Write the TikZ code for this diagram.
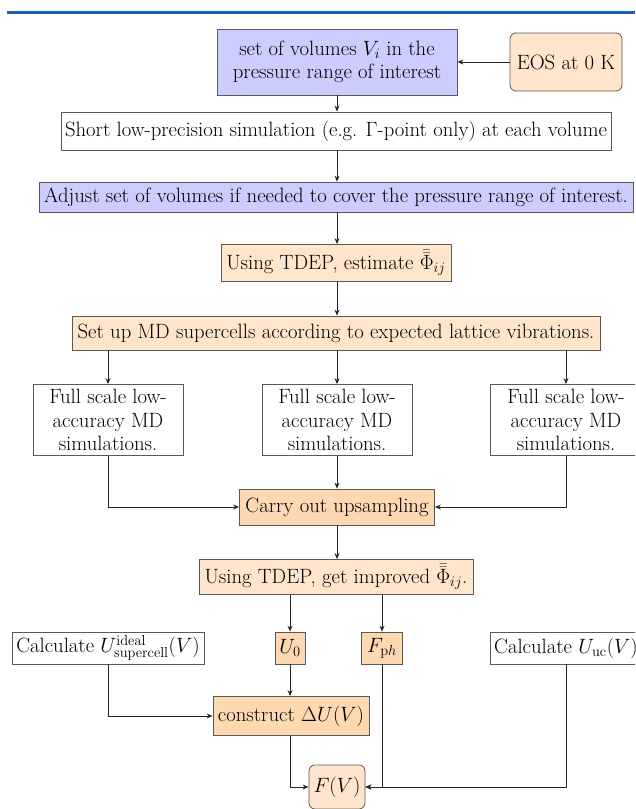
\RequirePackage{fix-cm}
\documentclass[tikz,border=0pt]{standalone}
\usetikzlibrary{arrows.meta}
\definecolor{topblue}{HTML}{1F5FAF}
\definecolor{lavfill}{HTML}{CCCCFF}
\definecolor{lightor}{HTML}{FFE5CC}
\definecolor{darkor}{HTML}{FDD8B1}
\newcommand{\myfs}{\fontsize{20.7}{23.5}\selectfont}
\tikzset{
 box/.style={draw=black!65, line width=0.8pt, align=center, inner xsep=3pt, inner ysep=3pt, font=\myfs},
 lav/.style={box, fill=lavfill},
 lor/.style={box, fill=lightor},
 dor/.style={box, fill=darkor},
 wht/.style={box, fill=white},
 arr/.style={-{Stealth[length=6pt,width=5pt]}, line width=0.9pt, black!85},
}
\begin{document}
\begin{tikzpicture}[x=1pt,y=-1pt]
\clip (0,0) rectangle (635,809);
\fill[white] (0,0) rectangle (635,809);
\draw[topblue, line width=3pt] (7,12) -- (635,12);

\node[lav, minimum width=240, minimum height=66] (vol) at (337,62) {set of volumes $V_i$ in the\\pressure range of interest};
\node[lor, rounded corners=6pt, minimum width=112, minimum height=58] (eos) at (566,62) {EOS at 0 K};
\node[wht, minimum width=550, minimum height=38] (short) at (336,131) {Short low-precision simulation (e.g. $\Gamma$-point only) at each volume};
\node[lav, minimum width=594, minimum height=30] (adj) at (336,197) {Adjust set of volumes if needed to cover the pressure range of interest.};
\node[lor, minimum width=230, minimum height=37] (est) at (336,263) {Using TDEP, estimate $\bar{\bar{\Phi}}_{ij}$};
\node[lor, minimum width=528, minimum height=34] (md) at (336,333) {Set up MD supercells according to expected lattice vibrations.};
\node[wht, minimum width=150, minimum height=71] (f1) at (108,420) {Full scale low-\\accuracy MD\\simulations.};
\node[wht, minimum width=150, minimum height=71] (f2) at (337,420) {Full scale low-\\accuracy MD\\simulations.};
\node[wht, minimum width=152, minimum height=71] (f3) at (566,420) {Full scale low-\\accuracy MD\\simulations.};
\node[dor, minimum width=195, minimum height=36] (up) at (337,507) {Carry out upsampling};
\node[lor, minimum width=274, minimum height=35] (imp) at (336,577) {Using TDEP, get improved $\bar{\bar{\Phi}}_{ij}$.};
\node[wht, minimum width=192, minimum height=32] (uid) at (108,648) {Calculate $U^{\mathrm{ideal}}_{\mathrm{supercell}}(V)$};
\node[dor, minimum width=30, minimum height=32] (u0) at (290,648) {$U_0$};
\node[dor, minimum width=41, minimum height=32] (fph) at (382,648) {$F_{\mathrm{p}h}$};
\node[wht, minimum width=152, minimum height=32] (uuc) at (566,648) {Calculate $U_{\mathrm{uc}}(V)$};
\node[dor, minimum width=156, minimum height=39] (dU) at (291,716) {construct $\Delta U(V)$};
\node[lor, rounded corners=6pt, minimum width=56, minimum height=44] (FV) at (337,787) {$F(V)$};

\draw[arr] (eos) -- (vol);
\draw[arr] (vol.south) -- (vol.south |- short.north);
\draw[arr] (short.south -| vol.south) -- (vol.south |- adj.north);
\draw[arr] (adj.south -| vol.south) -- (vol.south |- est.north);
\draw[arr] (est.south -| vol.south) -- (vol.south |- md.north);
\draw[arr] (md.south -| f1) -- (f1.north);
\draw[arr] (md.south -| f2) -- (f2.north);
\draw[arr] (md.south -| f3) -- (f3.north);
\draw[arr] (f1.south) |- (up.west);
\draw[arr] (f2.south) -- (f2.south |- up.north);
\draw[arr] (f3.south) |- (up.east);
\draw[arr] (up.south) -- (up.south |- imp.north);
\draw[arr] (imp.south -| u0) -- (u0.north);
\draw[arr] (imp.south -| fph) -- (fph.north);
\draw[arr] (u0.south) -- (u0.south |- dU.north);
\draw[arr] (uid.south) |- (dU.west);
\draw[arr] (dU.south -| u0) |- (FV.west);
\draw[arr] (fph.south) |- (FV.east);
\draw[arr] (uuc.south) |- (FV.east);
\end{tikzpicture}
\end{document}
